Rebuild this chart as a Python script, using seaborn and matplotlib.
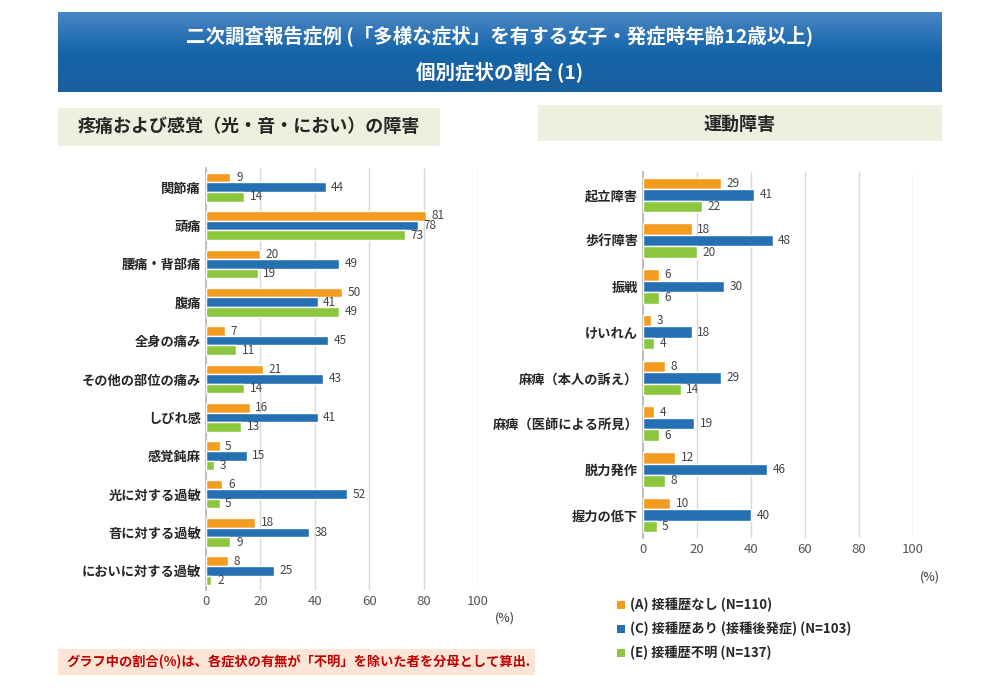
import matplotlib
matplotlib.use("Agg")
import matplotlib.pyplot as plt
import seaborn as sns
import numpy as np
import pandas as pd
from matplotlib.patches import Rectangle
from matplotlib.colors import LinearSegmentedColormap

sns.set_theme(style="white")
plt.rcParams['font.family'] = ['Noto Sans CJK JP', 'DejaVu Sans']

groups = ["(A) 接種歴なし (N=110)", "(C) 接種歴あり (接種後発症) (N=103)", "(E) 接種歴不明 (N=137)"]
colors = ["#F39C1F", "#2470B3", "#8CC63F"]

left_cats = ["関節痛", "頭痛", "腰痛・背部痛", "腹痛", "全身の痛み", "その他の部位の痛み",
             "しびれ感", "感覚鈍麻", "光に対する過敏", "音に対する過敏", "においに対する過敏"]
left_A = [9, 81, 20, 50, 7, 21, 16, 5, 6, 18, 8]
left_C = [44, 78, 49, 41, 45, 43, 41, 15, 52, 38, 25]
left_E = [14, 73, 19, 49, 11, 14, 13, 3, 5, 9, 2]

right_cats = ["起立障害", "歩行障害", "振戦", "けいれん", "麻痺（本人の訴え）",
              "麻痺（医師による所見）", "脱力発作", "握力の低下"]
right_A = [29, 18, 6, 3, 8, 4, 12, 10]
right_C = [41, 48, 30, 18, 29, 19, 46, 40]
right_E = [22, 20, 6, 4, 14, 6, 8, 5]

def frame(cats, a, c, e):
    rows = []
    for i, cat in enumerate(cats):
        for g, v in zip(groups, (a[i], c[i], e[i])):
            rows.append((cat, g, v))
    return pd.DataFrame(rows, columns=["cat", "grp", "val"])

fig = plt.figure(figsize=(9.9, 6.97), dpi=100)
W, H = 990, 697
def fx(x): return x / W
def fy(y): return 1 - y / H

bax = fig.add_axes([fx(58), fy(92), fx(942) - fx(58), (92 - 12) / H])
grad = np.linspace(0, 1, 100).reshape(-1, 1)
cm = LinearSegmentedColormap.from_list("b", ["#4A86C5", "#1565AA", "#1A5E9E"])
bax.imshow(grad, aspect="auto", cmap=cm, extent=[0, 1, 0, 1])
bax.axis("off")
bax.text(0.5, 0.7, "二次調査報告症例 (「多様な症状」を有する女子・発症時年齢12歳以上)", color="white",
         ha="center", va="center", fontsize=14, fontweight="bold", transform=bax.transAxes)
bax.text(0.5, 0.25, "個別症状の割合 (1)", color="white", ha="center", va="center",
         fontsize=14, fontweight="bold", transform=bax.transAxes)

fig.patches.append(Rectangle((fx(58), fy(146)), fx(440) - fx(58), 38 / H, transform=fig.transFigure,
                             facecolor="#EBF1DE", edgecolor="none"))
fig.text(fx(249), fy(127), "疼痛および感覚（光・音・におい）の障害", ha="center", va="center",
         fontsize=13, fontweight="bold")
fig.patches.append(Rectangle((fx(538), fy(141)), fx(942) - fx(538), 36 / H, transform=fig.transFigure,
                             facecolor="#EBF1DE", edgecolor="none"))
fig.text(fx(740), fy(124), "運動障害", ha="center", va="center", fontsize=13, fontweight="bold")

def draw(ax, df):
    sns.barplot(data=df, y="cat", x="val", hue="grp", hue_order=groups, palette=colors,
                orient="h", ax=ax, width=0.75, legend=False, saturation=1, zorder=3)
    for cont in ax.containers:
        ax.bar_label(cont, padding=4, fontsize=8.5, color="#444444")
    ax.set_xlim(0, 100)
    ax.set_xticks([0, 20, 40, 60, 80, 100])
    ax.grid(axis="x", color="#D9D9D9", linewidth=1, zorder=0)
    ax.set_axisbelow(True)
    ax.set_xlabel("")
    ax.set_ylabel("")
    ax.tick_params(axis="y", length=0, labelsize=9.5)
    ax.tick_params(axis="x", length=0, labelsize=9.5, colors="#555555")
    for lab in ax.get_yticklabels():
        lab.set_fontweight("bold")
    for s in ["top", "right", "bottom"]:
        ax.spines[s].set_visible(False)
    ax.spines["left"].set_color("#BBBBBB")

ax1 = fig.add_axes([fx(206), fy(590), fx(478) - fx(206), (590 - 168) / H])
draw(ax1, frame(left_cats, left_A, left_C, left_E))
fig.text(fx(505), fy(618), "(%)", ha="center", va="center", fontsize=9, color="#333333")

ax2 = fig.add_axes([fx(643), fy(538), fx(913) - fx(643), (538 - 172) / H])
draw(ax2, frame(right_cats, right_A, right_C, right_E))
fig.text(fx(930), fy(577), "(%)", ha="center", va="center", fontsize=9, color="#333333")

for i, (g, c) in enumerate(zip(groups, colors)):
    y = 605 + i * 24
    fig.patches.append(Rectangle((fx(617), fy(y + 4)), 8 / W, 8 / H, transform=fig.transFigure,
                                 facecolor=c, edgecolor="none"))
    fig.text(fx(630), fy(y), g, ha="left", va="center", fontsize=9.5, fontweight="bold")

fig.patches.append(Rectangle((fx(58), fy(675)), fx(535) - fx(58), 26 / H, transform=fig.transFigure,
                             facecolor="#FCE4D6", edgecolor="none"))
fig.text(fx(66), fy(662), "グラフ中の割合(%)は、各症状の有無が「不明」を除いた者を分母として算出.",
         ha="left", va="center", fontsize=9.5, fontweight="bold", color="#C00000")

fig.savefig("out.png", dpi=100)
